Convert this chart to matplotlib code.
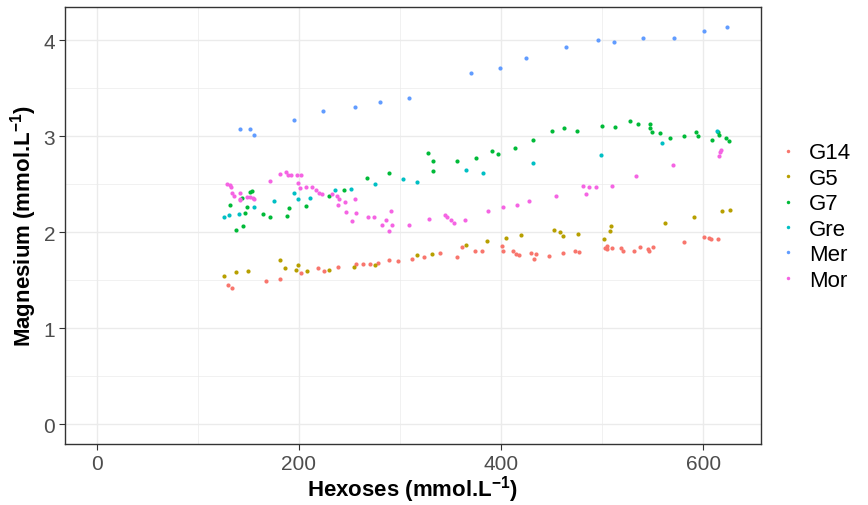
import matplotlib
matplotlib.use("Agg")
import matplotlib.pyplot as plt
from matplotlib.lines import Line2D
from matplotlib.ticker import MultipleLocator

plt.rcParams["font.family"] = ["Liberation Sans", "DejaVu Sans"]
plt.rcParams["mathtext.fontset"] = "custom"
plt.rcParams["mathtext.rm"] = "Liberation Sans"
plt.rcParams["mathtext.bf"] = "Liberation Sans:bold"

GROUPS = ["G14", "G5", "G7", "Gre", "Mer", "Mor"]
COLORS = ["#F8766D", "#B79F00", "#00BA38", "#00BFC4", "#619CFF", "#F564E3"]

g14_x = [130.4, 134.3, 167.6, 181, 202.2, 219, 224.9, 238.7, 256.8, 264, 270, 278.2,
         289.7, 298.3, 312.4, 323.6, 339.8, 356.2, 361.2, 374.3, 380.9, 401.3, 401.7,
         412.2, 414.8, 418.1, 429.6, 434.6, 433, 447.1, 461.9, 473.1, 477.7, 503.4,
         504.7, 505, 510.3, 518.8, 520.8, 531.4, 537.3, 545.9, 546.9, 550.4, 581.4,
         601.2, 606.1, 608.1, 614.6]
g14_y = [1.45, 1.42, 1.49, 1.51, 1.57, 1.625, 1.59, 1.635, 1.67, 1.67, 1.67, 1.68,
         1.71, 1.70, 1.72, 1.74, 1.78, 1.74, 1.84, 1.80, 1.80, 1.86, 1.805,
         1.80, 1.77, 1.76, 1.78, 1.77, 1.72, 1.75, 1.785, 1.80, 1.79, 1.83,
         1.86, 1.82, 1.83, 1.83, 1.805, 1.805, 1.85, 1.82, 1.80, 1.85, 1.90,
         1.945, 1.935, 1.93, 1.93]

g5_x = [126.4, 137.6, 149.8, 181, 186.7, 197.5, 199.5, 208.4, 229.4, 255.1, 275.9,
        316.7, 332.2, 365.1, 385.9, 404.9, 420, 452.7, 458.3, 461.5, 476, 502, 507.6,
        509.3, 562.2, 591.5, 619, 626.6]
g5_y = [1.545, 1.58, 1.59, 1.71, 1.63, 1.61, 1.655, 1.60, 1.61, 1.64, 1.66,
        1.76, 1.77, 1.865, 1.91, 1.94, 1.965, 2.02, 2.00, 1.96, 1.98, 1.93, 2.01,
        2.06, 2.10, 2.16, 2.22, 2.23]

g7_x = [131.7, 138, 144.5, 143.9, 146.5, 148.8, 151.4, 153.8, 164.6, 171.2, 188, 190.3,
        207.4, 229.4, 245.2, 267.3, 289.4, 328.2, 332.8, 332.8, 356.5, 375.6, 391.4,
        397.3, 413.8, 431.9, 451, 462.9, 475.4, 500.4, 512.6, 527.4, 535.3, 547.5,
        547.2, 549.4, 557.6, 567.5, 580.7, 593.4, 595.4, 609.3, 614.3, 615.3, 622.6,
        625.9]
g7_y = [2.28, 2.02, 2.06, 2.36, 2.20, 2.26, 2.42, 2.43, 2.19, 2.16, 2.17, 2.25,
        2.27, 2.375, 2.44, 2.56, 2.62, 2.82, 2.74, 2.64, 2.74, 2.77, 2.84,
        2.81, 2.88, 2.96, 3.05, 3.08, 3.05, 3.11, 3.10, 3.16, 3.125, 3.125,
        3.08, 3.045, 3.03, 2.98, 3.00, 3.04, 3.00, 2.96, 3.04, 3.01, 2.98,
        2.945]

gre_x = [126.4, 131, 140.6, 155.4, 175.1, 195.6, 198.8, 211.4, 235.4, 251.9, 275.6,
         302.9, 316.7, 365.1, 382.2, 431.3, 499, 559.4, 613.7]
gre_y = [2.16, 2.18, 2.19, 2.26, 2.32, 2.41, 2.35, 2.36, 2.44, 2.45, 2.50,
         2.55, 2.52, 2.65, 2.62, 2.72, 2.80, 2.93, 3.05]

mer_x = [141.5, 151.4, 155.4, 194.9, 223.9, 255.5, 280.5, 309.4, 370, 399, 424.4,
         463.9, 496.1, 511.9, 540.6, 571.2, 600.6, 623.6]
mer_y = [3.07, 3.07, 3.01, 3.17, 3.26, 3.30, 3.36, 3.40, 3.66, 3.71, 3.81,
         3.93, 4.00, 3.98, 4.02, 4.02, 4.10, 4.135]

mor_x = [129, 131.7, 133, 134, 136.3, 141.5, 142, 142, 148.8, 152, 154.8, 155.4,
         171.9, 181, 187.4, 189, 192.3, 198.2, 202.5, 199.2, 200.8, 207.4, 212.6,
         216.6, 219.6, 222.9, 232.8, 237.7, 239.3, 238.7, 245.9, 255.8, 246.9, 256.8,
         252.5, 268, 274.9, 286.4, 291.4, 282.5, 289, 292.6, 309.4, 328.9, 344.4,
         346.4, 350.6, 353.9, 364.1, 387.2, 402.3, 415.8, 428, 454.6, 481.3, 484.6,
         487.2, 493.8, 510.3, 534, 569.9, 615.6, 616.3, 617.3]
mor_y = [2.50, 2.49, 2.47, 2.41, 2.38, 2.41, 2.35, 2.33, 2.37, 2.37, 2.36, 2.34,
         2.53, 2.61, 2.63, 2.59, 2.59, 2.60, 2.60, 2.51, 2.46, 2.47, 2.465,
         2.44, 2.41, 2.40, 2.40, 2.38, 2.35, 2.28, 2.31, 2.35, 2.21, 2.20,
         2.12, 2.16, 2.16, 2.125, 2.22, 2.07, 2.01, 2.07, 2.07, 2.14, 2.18,
         2.16, 2.13, 2.10, 2.13, 2.215, 2.26, 2.28, 2.32, 2.375, 2.48, 2.40,
         2.47, 2.47, 2.485, 2.58, 2.70, 2.795, 2.83, 2.86]

series = [(g14_x, g14_y), (g5_x, g5_y), (g7_x, g7_y),
          (gre_x, gre_y), (mer_x, mer_y), (mor_x, mor_y)]

fig = plt.figure(figsize=(8.68, 5.06), dpi=100)
ax = fig.add_axes([0.0749, 0.1206, 0.8018, 0.864])

for (xs, ys), color in zip(series, COLORS):
    ax.scatter(xs, ys, s=9, color=color, linewidths=0, zorder=3)

ax.set_xlim(-31.3, 657.3)
ax.set_ylim(-0.207, 4.347)
ax.xaxis.set_major_locator(MultipleLocator(200))
ax.xaxis.set_minor_locator(MultipleLocator(100))
ax.yaxis.set_major_locator(MultipleLocator(1))
ax.yaxis.set_minor_locator(MultipleLocator(0.5))
ax.grid(which="major", color="#EBEBEB", linewidth=1.0, zorder=0)
ax.grid(which="minor", color="#EBEBEB", linewidth=0.5, zorder=0)
ax.set_axisbelow(True)

for sp in ax.spines.values():
    sp.set_color("#333333")
    sp.set_linewidth(1.0)

ax.tick_params(which="major", length=4, width=0.8, color="#333333",
               labelcolor="#4D4D4D", labelsize=15, pad=3)
ax.tick_params(which="minor", length=0)

ax.set_xlabel(r"Hexoses (mmol.L$^{\mathbf{-1}}$)", fontsize=16, fontweight="bold", labelpad=0)
ax.set_ylabel(r"Magnesium (mmol.L$^{\mathbf{-1}}$)", fontsize=16, fontweight="bold", labelpad=3)

handles = [Line2D([], [], linestyle="", marker="o", markersize=2.5,
                  markerfacecolor=c, markeredgewidth=0) for c in COLORS]
fig.legend(handles, GROUPS, loc="center left", bbox_to_anchor=(0.885, 0.570),
           frameon=False, fontsize=16, handlelength=1.0, handletextpad=0.45,
           labelspacing=0.2, borderaxespad=0)

fig.savefig("out.png", dpi=100, facecolor="white")
